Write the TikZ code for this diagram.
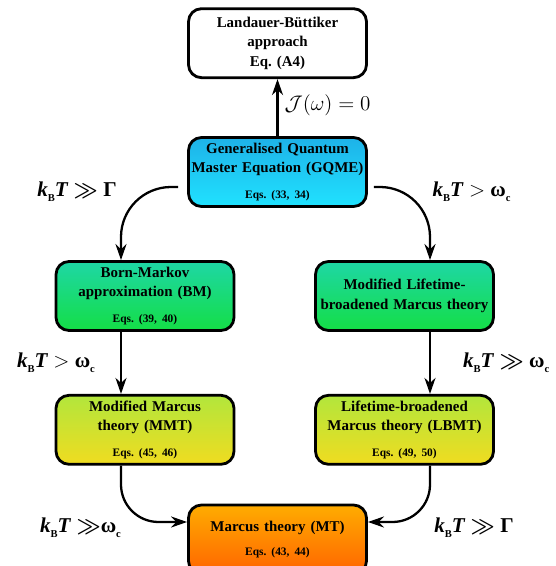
\documentclass[tikz,border=0pt]{standalone}
\usepackage{amsmath,amssymb}
\usepackage{fontspec}
\setmainfont{Liberation Serif}
\usepackage{tikz}
\usetikzlibrary{arrows.meta, positioning, calc}

\definecolor{gqmetop}{RGB}{30,178,232}
\definecolor{gqmebot}{RGB}{32,226,255}
\definecolor{bmtop}{RGB}{30,215,165}
\definecolor{bmbot}{RGB}{20,222,70}
\definecolor{mmttop}{RGB}{178,230,60}
\definecolor{mmtbot}{RGB}{240,220,32}
\definecolor{mttop}{RGB}{255,172,0}
\definecolor{mtbot}{RGB}{255,100,0}

\newcommand{\smallsub}[1]{\raisebox{-0.5ex}{\fontsize{6}{6}\selectfont\bfseries #1}}
\newcommand{\kT}{\textbf{\textit{k}}\smallsub{B}\textbf{\textit{T}}}
\newcommand{\wc}{\textbf{ω}\smallsub{c}}
\newcommand{\eqsize}{\fontsize{6.5}{8}\selectfont}
\frenchspacing

\begin{document}
\begin{tikzpicture}[
    box/.style={rectangle, rounded corners=0.26cm, draw=black, line width=1.6pt, minimum width=3.56cm, minimum height=1.38cm, text width=3.5cm, align=center, inner sep=0pt, font=\bfseries\fontsize{8.5}{11}\selectfont},
    arrow/.style={-{Stealth[length=3.2mm,width=2.2mm]}, line width=1.3pt},
    lbl/.style={font=\fontsize{12}{14}\selectfont, inner sep=0pt}
]
\useasboundingbox (0,0) rectangle (11.12,11.32);

% Top: GQME and the Landauer limit
\node[box, top color=gqmetop, bottom color=gqmebot] (gqme) at (5.55,7.88) {Generalised Quantum\\Master Equation (GQME)\\[3.5pt]{\eqsize Eqs. (33, 34)}};
\node[box, fill=white, above=1.14cm of gqme] (lb) {Landauer-Büttiker\\approach\\Eq. (A4)};

% Row 2
\node[box, top color=bmtop, bottom color=bmbot] (bm) at (2.90,5.40) {Born-Markov\\approximation (BM)\\[3.5pt]{\eqsize Eqs. (39, 40)}};
\node[box, top color=bmtop, bottom color=bmbot] (mlbmt) at (8.09,5.40) {Modified Lifetime-\\broadened Marcus theory};

% Row 3
\node[box, top color=mmttop, bottom color=mmtbot, below=1.24cm of bm] (mmt) {Modified Marcus\\theory (MMT)\\[3.5pt]{\eqsize Eqs. (45, 46)}};
\node[box, top color=mmttop, bottom color=mmtbot, below=1.24cm of mlbmt] (lbmt) {Lifetime-broadened\\Marcus theory (LBMT)\\[3.5pt]{\eqsize Eqs. (49, 50)}};

% Bottom
\node[box, top color=mttop, bottom color=mtbot] (mt) at (5.55,0.53) {Marcus theory (MT)\\[3pt]{\eqsize Eqs. (43, 44)}};

% Links
\draw[arrow] (gqme) -- node[lbl, right=0.12cm, pos=0.54] (jzero) {$\mathcal{J}(\omega) = 0$} (lb);
\draw[arrow, rounded corners=1cm] ([shift={(-0.18cm,-0.3cm)}]gqme.west) -| ([xshift=-0.48cm]bm.north);
\draw[arrow, rounded corners=1cm] ([shift={(0.12cm,-0.3cm)}]gqme.east) -| ([xshift=0.51cm]mlbmt.north);
\draw[arrow] ([xshift=-0.48cm]bm.south) -- node[lbl, left=0.5cm] (bmcond) {\kT{} $>$ \wc} ([xshift=-0.48cm]mmt.north);
\draw[arrow] ([xshift=0.51cm]mlbmt.south) -- node[lbl, right=0.64cm] (lbcond) {\kT{} {\boldmath$\gg$} \wc} ([xshift=0.51cm]lbmt.north);
\draw[arrow, rounded corners=0.75cm] ([xshift=-0.48cm]mmt.south) |- ([yshift=0.35cm]mt.west);
\draw[arrow, rounded corners=0.75cm] ([xshift=0.51cm]lbmt.south) |- ([yshift=0.35cm]mt.east);

% Conditions beside the curved links
\node[lbl] (gqmel) at (1.54,7.48) {\kT{} {\boldmath$\gg$} \textbf{Γ}};
\node[lbl] (gqmer) at (9.43,7.48) {\kT{} $>$ \wc};
\node[lbl] (mmtl) at (1.61,0.76) {\kT{} {\boldmath$\gg$}\wc};
\node[lbl] (lbmtr) at (9.48,0.76) {\kT{} {\boldmath$\gg$} \textbf{Γ}};

\end{tikzpicture}
\end{document}
